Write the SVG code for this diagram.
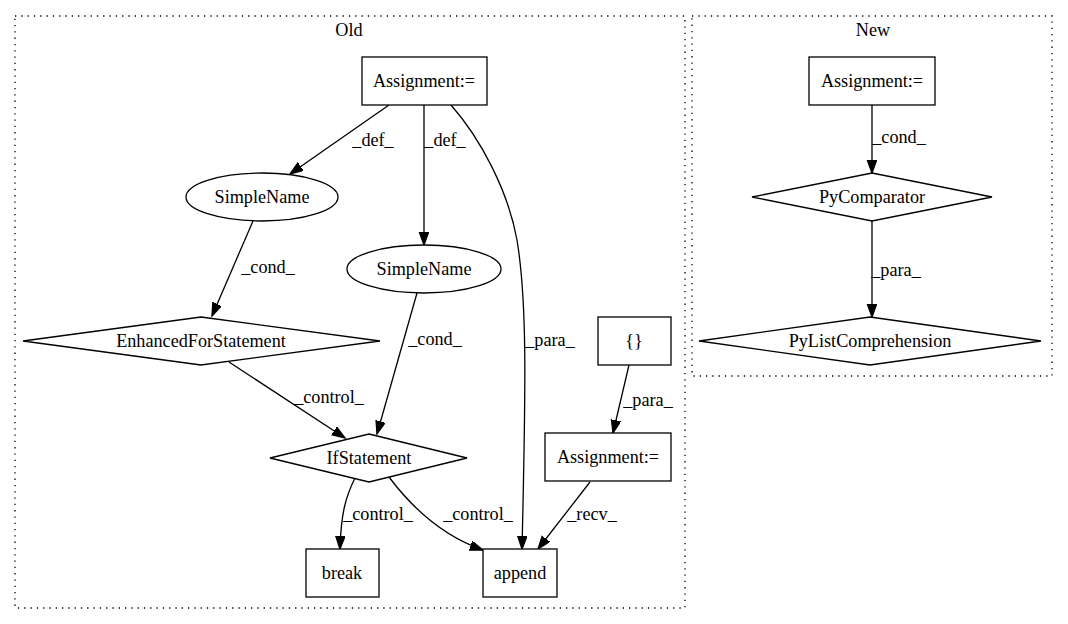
<svg xmlns="http://www.w3.org/2000/svg" width="1068" height="624" viewBox="0 0 1068 624">
<style>
text{font-family:"Liberation Serif","Times New Roman",serif;font-size:18.2px;fill:#000;text-anchor:middle}
.n{fill:#fff;stroke:#000;stroke-width:1.3}
.c{fill:none;stroke:#000;stroke-width:1.3;stroke-dasharray:1.3,5}
.e{fill:none;stroke:#000;stroke-width:1.3;marker-end:url(#ah)}
</style>
<defs>
<marker id="ah" markerUnits="userSpaceOnUse" markerWidth="15" markerHeight="11" refX="13" refY="4.7" orient="auto">
<path d="M0,0 L13,4.7 L0,9.4 z" fill="#000" stroke="#000" stroke-width="1.3"/>
</marker>
</defs>
<rect width="1068" height="624" fill="#fff"/>
<g id="cluster-old">
<rect class="c" x="15" y="16" width="670" height="592"/>
<text x="349" y="36">Old</text>
</g>
<g id="cluster-new">
<rect class="c" x="692" y="16" width="360" height="360"/>
<text x="873" y="36">New</text>
</g>
<g id="edges">
<path class="e" d="M389,105 L290,174"/>
<text x="373" y="146">_def_</text>
<path class="e" d="M424,105 L424,245"/>
<text x="445" y="146">_def_</text>
<path class="e" d="M451,105 C480,138 508,190 517,240 C527,300 526,380 522,549"/>
<text x="550" y="346">_para_</text>
<path class="e" d="M253,221 L212,316"/>
<text x="268" y="273">_cond_</text>
<path class="e" d="M417,293 L377,434"/>
<text x="435" y="345">_cond_</text>
<path class="e" d="M229,362 L345,438"/>
<text x="329" y="403">_control_</text>
<path class="e" d="M355,478 C345,498 341,515 340,549"/>
<text x="378" y="520">_control_</text>
<path class="e" d="M389,477 C410,505 440,535 483,550"/>
<text x="478" y="520">_control_</text>
<path class="e" d="M590,482 L538,549"/>
<text x="592" y="520">_recv_</text>
<path class="e" d="M629,365 L613,433"/>
<text x="648" y="406">_para_</text>
<path class="e" d="M872,105 L872,173"/>
<text x="899" y="143">_cond_</text>
<path class="e" d="M872,221 L872,317"/>
<text x="896" y="276">_para_</text>
</g>
<g id="old-assign1">
<rect class="n" x="362" y="57" width="125" height="48"/>
<text x="424" y="87">Assignment:=</text>
</g>
<g id="old-simplename1">
<ellipse class="n" cx="262" cy="197" rx="76" ry="24"/>
<text x="262" y="203">SimpleName</text>
</g>
<g id="old-simplename2">
<ellipse class="n" cx="424" cy="269" rx="77" ry="24"/>
<text x="424" y="275">SimpleName</text>
</g>
<g id="old-efs">
<polygon class="n" points="201,317 380,341 201,365 23,341"/>
<text x="201" y="347">EnhancedForStatement</text>
</g>
<g id="old-if">
<polygon class="n" points="369,434 467,458 369,482 270,458"/>
<text x="369" y="464">IfStatement</text>
</g>
<g id="old-braces">
<rect class="n" x="598" y="317" width="73" height="48"/>
<text x="634" y="347">{}</text>
</g>
<g id="old-assign2">
<rect class="n" x="545" y="433" width="126" height="48"/>
<text x="608" y="463">Assignment:=</text>
</g>
<g id="old-break">
<rect class="n" x="306" y="549" width="73" height="48"/>
<text x="342" y="579">break</text>
</g>
<g id="old-append">
<rect class="n" x="483" y="549" width="74" height="48"/>
<text x="520" y="579">append</text>
</g>
<g id="new-assign">
<rect class="n" x="809" y="57" width="126" height="48"/>
<text x="872" y="87">Assignment:=</text>
</g>
<g id="new-pycomparator">
<polygon class="n" points="872,173 992,197 872,221 752,197"/>
<text x="872" y="203">PyComparator</text>
</g>
<g id="new-pylistcomp">
<polygon class="n" points="870,317 1041,341 870,365 699,341"/>
<text x="870" y="347">PyListComprehension</text>
</g>
</svg>
